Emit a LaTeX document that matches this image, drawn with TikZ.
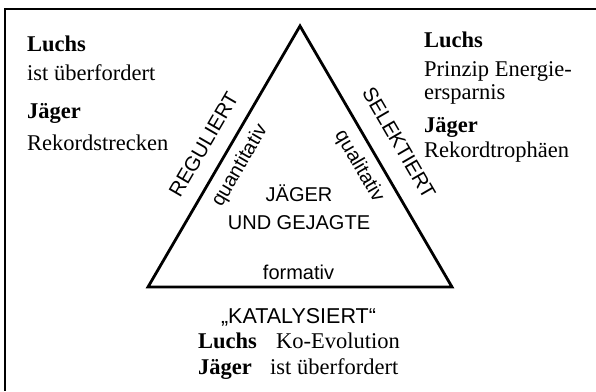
\documentclass[tikz,border=0pt]{standalone}
\usepackage{fontspec}
\setmainfont{Liberation Serif}
\setsansfont{Liberation Sans}
\usetikzlibrary{positioning}

\begin{document}
\begin{tikzpicture}[
  x=1pt, y=1pt,
  head/.style={font=\bfseries\fontsize{22.5}{27}\selectfont, anchor=base west,
               inner sep=0pt},
  body/.style={font=\fontsize{22.5}{27}\selectfont, anchor=base west,
               inner sep=0pt},
  caps/.style={font=\sffamily\fontsize{20}{24}\selectfont, anchor=base,
               inner sep=0pt},
  side/.style={font=\sffamily\fontsize{20.5}{24}\selectfont, sloped, inner sep=0pt},
  mode/.style={font=\sffamily\fontsize{20}{24}\selectfont, sloped, inner sep=0pt},
  tri/.style={line width=2.8pt, line join=miter},
  border/.style={line width=1.5pt}
]
\useasboundingbox (0,0) rectangle (596,391);

% page frame, only top and left edge visible
\draw[border] (596,382) -- (5,382) -- (5,0);

% Triangle with its three sides
\coordinate (apex) at (300,365);
\coordinate (bl) at (148,104);
\coordinate (br) at (452,104);
\draw[tri] (bl)
  -- node[side, above=15pt] {REGULIERT} node[mode, below=8pt] {quantitativ} (apex)
  -- node[side, above=18pt] {SELEKTIERT} node[mode, below=9pt] {qualitativ} (br)
  -- cycle;

% Inside
\node[caps] (title) at (299,189) {JÄGER};
\node[caps] (title2) at (299,161) {UND GEJAGTE};
\node[caps] (formativ) at (298.5,112) {formativ};

% Left side: regulated
\node[head] (luchsA) at (27,339) {Luchs};
\node[body] (luchsAtxt) at (27,310) {ist überfordert};
\node[head] (jaegerA) at (27,272) {Jäger};
\node[body] (jaegerAtxt) at (27,240) {Rekordstrecken};

% Right side: selected
\node[head] (luchsB) at (424,343) {Luchs};
\node[body] (luchsBtxt) at (424,314) {Prinzip Energie-};
\node[body] (luchsBtxt2) at (424,291) {ersparnis};
\node[head] (jaegerB) at (424,258) {Jäger};
\node[body] (jaegerBtxt) at (424,233) {Rekordtrophäen};

% Bottom: catalysed
\node[caps, font=\sffamily\fontsize{21.5}{25}\selectfont] (katal) at (298.5,68)
  {„KATALYSIERT“};
\node[head] (luchsC) at (198,43) {Luchs};
\node[body] (luchsCtxt) at (276,43) {Ko-Evolution};
\node[head] (jaegerC) at (198,17) {Jäger};
\node[body] (jaegerCtxt) at (270,17) {ist überfordert};

\end{tikzpicture}
\end{document}
